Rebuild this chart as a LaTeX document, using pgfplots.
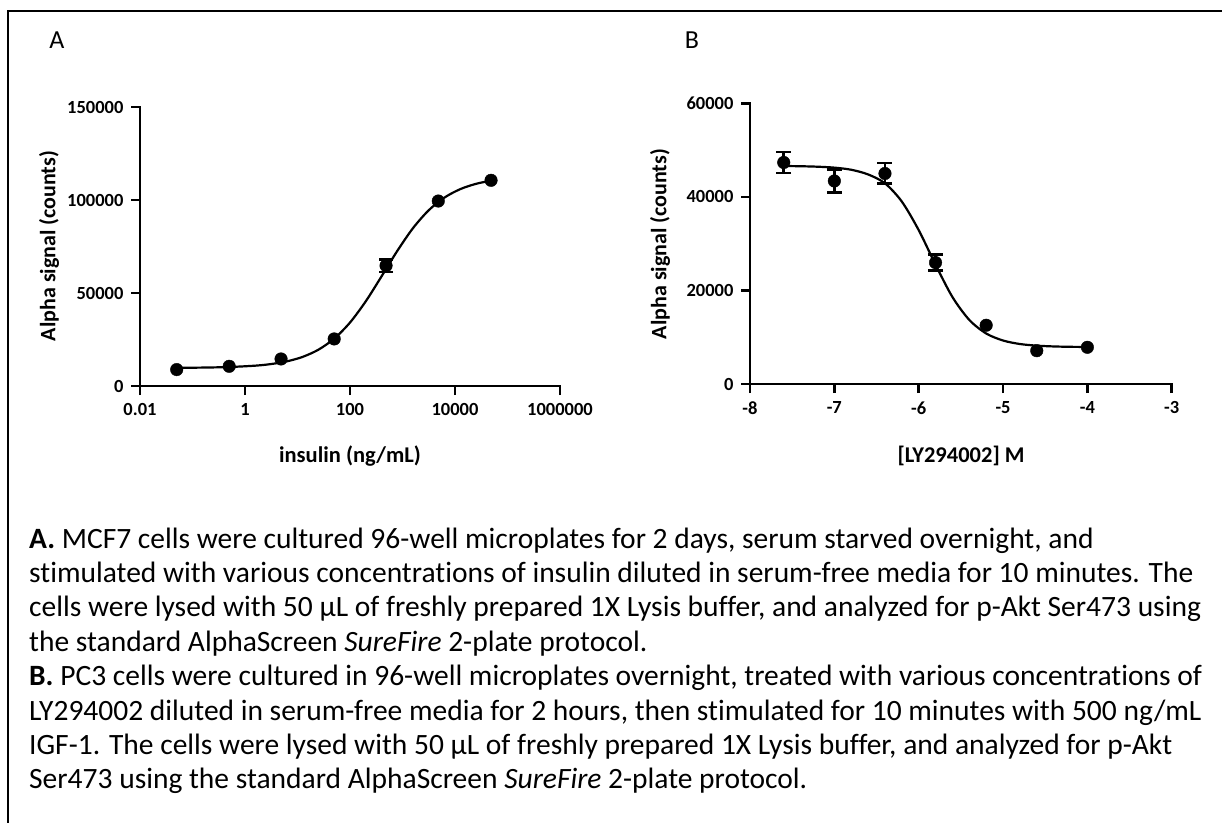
\documentclass[border=0pt]{standalone}
\usepackage{fontspec}
\setmainfont{Carlito}[Ligatures=NoCommon]
\usepackage{pgfplots}
\pgfplotsset{compat=1.18}
\pgfplotsset{
  panel/.style={
    scale only axis,
    anchor=south west,
    axis lines=left,
    axis line style={-, line width=2.5pt, line cap=rect},
    tick align=outside,
    major tick length=9pt,
    tick style={line width=2.5pt, black},
    tick label style={font=\fontsize{18.5}{18.5}\selectfont\bfseries},
    yticklabel style={xshift=-4pt},
    xticklabel style={yshift=-5pt},
    scaled y ticks=false, scaled x ticks=false,
    xminorticks=false, yminorticks=false,
    clip=false,
  },
  curve/.style={black, line width=2.2pt, smooth, mark=none},
  pts/.style={black, only marks, mark=*, mark size=6.3pt, mark options={fill=black}},
  ebar/.style={black, only marks, mark=*, mark size=6.3pt, mark options={fill=black},
    error bars/.cd, y dir=both, y explicit,
    error bar style={line width=2.6pt, black},
    error mark options={line width=2.6pt, mark size=#1, rotate=90}},
  ebar/.default=7.5pt,
}
\begin{document}
\begin{tikzpicture}
\path[use as bounding box] (0pt,0pt) rectangle (1222pt,-823pt);
% frame
\draw[line width=2pt] (1222pt,-11pt) -- (8pt,-11pt) -- (8pt,-823pt);
% panel letters
\node[font=\fontsize{26}{26}\selectfont] at (57pt,-40pt) {A};
\node[font=\fontsize{26}{26}\selectfont] at (692pt,-40pt) {B};

% Panel A
\begin{axis}[panel, at={(140pt,-386pt)}, width=420pt, height=279pt,
  xmode=log, xmin=0.01, xmax=1000000, ymin=0, ymax=150000,
  xtick={0.01,1,100,10000,1000000}, xticklabels={0.01,1,100,10000,1000000},
  ytick={0,50000,100000,150000}, yticklabels={0,50000,100000,150000}]
\addplot[curve] coordinates {
(0.0501,9785) (0.1585,9909) (0.501,10211) (1.585,10946) (3.162,11817)
(6.31,13274) (12.59,15681) (25.12,19548) (50.12,25495) (100,34121)
(199.5,45518) (398.1,58914) (794.3,72611) (1585,84882) (3162,94511)
(6310,101327) (12589,105847) (25119,108703) (46774,110313)};
\addplot[pts] coordinates {(0.05,8830) (0.5,10600) (4.86,14540) (50,25300) (4800,99460) (48600,110600)};
\addplot[ebar=7pt] coordinates {(486,64700) +- (0,3300)};
\end{axis}

% Panel B
\begin{axis}[panel, at={(750pt,-384pt)}, width=421.7pt, height=280.7pt,
  xmin=-8, xmax=-3, ymin=0, ymax=60000,
  xtick={-8,-7,-6,-5,-4,-3}, xticklabels={-8,-7,-6,-5,-4,-3},
  ytick={0,20000,40000,60000}, yticklabels={0,20000,40000,60000}]
\addplot[curve] coordinates {
(-7.6,46600) (-7.4,46550) (-7.2,46450) (-7.0,46250) (-6.8,45800) (-6.6,44800)
(-6.4,42900) (-6.2,39000) (-6.0,32900) (-5.8,25500) (-5.6,18600) (-5.4,13700)
(-5.2,10800) (-5.0,9300) (-4.8,8550) (-4.6,8200) (-4.4,8030) (-4.2,7950) (-4.0,7920)};
\addplot[pts] coordinates {(-5.2,12560) (-4.6,7120) (-4.0,7850)};
\addplot[ebar] coordinates {(-7.6,47350) +- (0,2250) (-7.0,43400) +- (0,2450)
  (-6.4,45000) +- (0,2200) (-5.8,25950) +- (0,1700)};
\end{axis}

% axis titles
\node[font=\fontsize{22}{22}\selectfont\bfseries, rotate=90] at (49pt,-246pt) {Alpha signal (counts)};
\node[font=\fontsize{22}{22}\selectfont\bfseries, rotate=90] at (660pt,-244pt) {Alpha signal (counts)};
\node[font=\fontsize{22.5}{22.5}\selectfont\bfseries] at (350pt,-456pt) {insulin (ng/mL)};
\node[font=\fontsize{22.5}{22.5}\selectfont\bfseries] at (961pt,-456pt) {[LY294002] M};

% caption
\begin{scope}[every node/.style={anchor=base west, inner sep=0pt, font=\fontsize{29.5}{34}\selectfont}]
\node at (29pt,-548pt) {\textbf{A.} MCF7 cells were cultured 96-well microplates for 2 days, serum starved overnight, and};
\node at (29pt,-582.4pt) {stimulated with various concentrations of insulin diluted in serum-free media for 10 minutes. The};
\node at (29pt,-616.8pt) {cells were lysed with 50 µL of freshly prepared 1X Lysis buffer, and analyzed for p-Akt Ser473 using};
\node at (29pt,-651.2pt) {the standard AlphaScreen \textit{SureFire} 2-plate protocol.};
\node at (29pt,-685.6pt) {\textbf{B.} PC3 cells were cultured in 96-well microplates overnight, treated with various concentrations of};
\node at (29pt,-720pt) {LY294002 diluted in serum-free media for 2 hours, then stimulated for 10 minutes with 500 ng/mL};
\node at (29pt,-754.4pt) {IGF-1. The cells were lysed with 50 µL of freshly prepared 1X Lysis buffer, and analyzed for p-Akt};
\node at (29pt,-788.8pt) {Ser473 using the standard AlphaScreen \textit{SureFire} 2-plate protocol.};
\end{scope}
\end{tikzpicture}
\end{document}
